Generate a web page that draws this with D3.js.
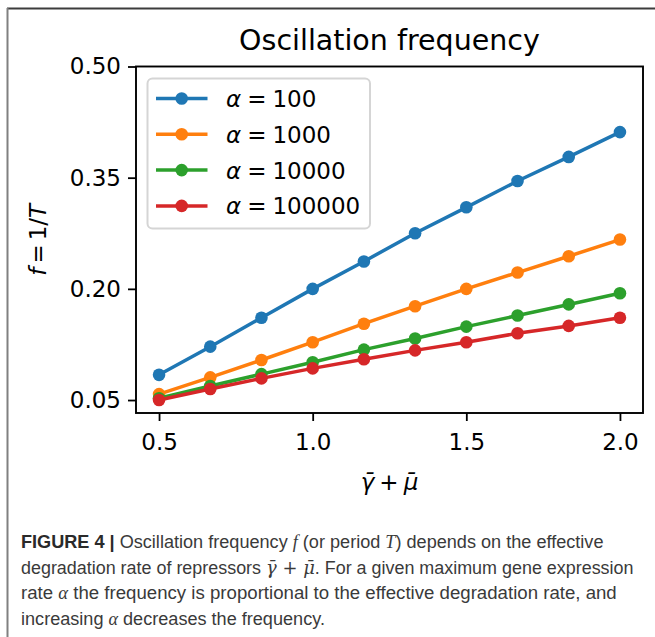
<!DOCTYPE html>
<html>
<head>
<meta charset="utf-8">
<script src="https://cdn.jsdelivr.net/npm/d3@7"></script>
<style>
  html, body { margin: 0; padding: 0; background: #fff; }
  svg { display: block; }
</style>
</head>
<body>
<svg id="chart" width="655" height="637"></svg>
<script>
// ---- data ----
const xValues = [0.5, 0.6667, 0.8333, 1.0, 1.1667, 1.3333, 1.5, 1.6667, 1.8333, 2.0];
const seriesNames = ["100", "1000", "10000", "100000"];
const alpha100    = [0.084, 0.122, 0.161, 0.200, 0.237, 0.275, 0.310, 0.3455, 0.378, 0.4115];
const alpha1000   = [0.058, 0.0806, 0.104, 0.128, 0.153, 0.1766, 0.200, 0.222, 0.244, 0.2665];
const alpha10000  = [0.0523, 0.0689, 0.085, 0.101, 0.118, 0.133, 0.149, 0.164, 0.179, 0.194];
const alpha100000 = [0.050, 0.0648, 0.0792, 0.0927, 0.105, 0.117, 0.128, 0.140, 0.150, 0.161];
const seriesColors = ["#1f77b4", "#ff7f0e", "#2ca02c", "#d62728"];
const xTicks = [0.5, 1.0, 1.5, 2.0];
const xTickLabels = ["0.5", "1.0", "1.5", "2.0"];
const yTicks = [0.05, 0.20, 0.35, 0.50];
const yTickLabels = ["0.05", "0.20", "0.35", "0.50"];
const titleText = "Oscillation frequency";
const captionLines = [
  [{t: "FIGURE 4 | ", b: true}, {t: "Oscillation frequency "}, {t: "f", i: true}, {t: " (or period "}, {t: "T", i: true}, {t: ") depends on the effective"}],
  [{t: "degradation rate of repressors "}, {t: "γ̄ + μ̄", m: true}, {t: ". For a given maximum gene expression"}],
  [{t: "rate "}, {t: "α", i: true}, {t: " the frequency is proportional to the effective degradation rate, and"}],
  [{t: "increasing "}, {t: "α", i: true}, {t: " decreases the frequency."}]
];
const captionWidths = [583, 613, 596, 304];

const allSeries = [alpha100, alpha1000, alpha10000, alpha100000];

const svg = d3.select("#chart");
svg.append("rect").attr("width", 655).attr("height", 637).attr("fill", "#fff");

// frame
svg.append("line").attr("x1", 7).attr("x2", 655).attr("y1", 8.5).attr("y2", 8.5)
  .attr("stroke", "#3c3c3c").attr("stroke-width", 2);
svg.append("line").attr("x1", 7.5).attr("x2", 7.5).attr("y1", 8).attr("y2", 637)
  .attr("stroke", "#808080").attr("stroke-width", 2);

const L = 136, R = 643, T = 66.5, B = 413;
const x = d3.scaleLinear().domain([0.425, 2.075]).range([L, R]);
const y = d3.scaleLinear().domain([0.0325, 0.5]).range([B, T]);

const FONT = "DejaVu Sans";

// axes
const xAxis = d3.axisBottom(x).tickValues(xTicks)
  .tickFormat((d, i) => xTickLabels[i]).tickSize(8).tickPadding(7);
const gx = svg.append("g").attr("transform", `translate(0,${B})`).call(xAxis);
const yAxis = d3.axisLeft(y).tickValues(yTicks)
  .tickFormat((d, i) => yTickLabels[i]).tickSize(8).tickPadding(7);
const gy = svg.append("g").attr("transform", `translate(${L},0)`).call(yAxis);
[gx, gy].forEach(g => {
  g.select(".domain").remove();
  g.selectAll(".tick line").attr("stroke", "#000").attr("stroke-width", 1.8);
  g.selectAll(".tick text").attr("font-family", FONT).attr("font-size", 23).attr("fill", "#000");
});
gx.selectAll(".tick text").attr("dy", "0.95em");

// lines
const line = d3.line().x((d, i) => x(xValues[i])).y(d => y(d));
allSeries.forEach((s, k) => {
  svg.append("path").datum(s).attr("d", line).attr("fill", "none")
    .attr("stroke", seriesColors[k]).attr("stroke-width", 3.5).attr("stroke-linejoin", "round");
  svg.append("g").selectAll("circle").data(s).join("circle")
    .attr("cx", (d, i) => x(xValues[i])).attr("cy", d => y(d)).attr("r", 6.3)
    .attr("fill", seriesColors[k]);
});

// spines
svg.append("rect").attr("x", L).attr("y", T).attr("width", R - L).attr("height", B - T)
  .attr("fill", "none").attr("stroke", "#000").attr("stroke-width", 1.9);

// legend
const lg = svg.append("g");
lg.append("rect").attr("x", 147.5).attr("y", 78.5).attr("width", 222.5).attr("height", 150)
  .attr("rx", 5).attr("fill", "#fff").attr("fill-opacity", 0.8)
  .attr("stroke", "#d5d5d5").attr("stroke-width", 2);
seriesNames.forEach((nm, k) => {
  const cy = 98.5 + k * 35.8;
  lg.append("line").attr("x1", 156).attr("x2", 207.5).attr("y1", cy).attr("y2", cy)
    .attr("stroke", seriesColors[k]).attr("stroke-width", 3.5);
  lg.append("circle").attr("cx", 181.7).attr("cy", cy).attr("r", 6.3).attr("fill", seriesColors[k]);
  const t = lg.append("text").attr("x", 226).attr("y", cy + 8.5)
    .attr("font-family", FONT).attr("font-size", 23).attr("fill", "#000");
  t.append("tspan").attr("font-style", "italic").text("α");
  t.append("tspan").attr("dx", 6).text("=");
  t.append("tspan").attr("dx", 6).text(nm);
});

// title
svg.append("text").attr("x", (L + R) / 2).attr("y", 50).attr("text-anchor", "middle")
  .attr("font-family", FONT).attr("font-size", 28.5).attr("fill", "#000").text(titleText);

// x label
const xl = svg.append("text").attr("x", (L + R) / 2).attr("y", 490).attr("text-anchor", "middle")
  .attr("font-family", FONT).attr("font-size", 23).attr("fill", "#000");
xl.append("tspan").attr("font-style", "italic").text("γ̄");
xl.append("tspan").attr("dx", 5).text("+");
xl.append("tspan").attr("dx", 5).attr("font-style", "italic").text("μ̄");

// y label
const yl = svg.append("text").attr("transform", `translate(46,${(T + B) / 2}) rotate(-90)`)
  .attr("text-anchor", "middle").attr("font-family", FONT).attr("font-size", 23).attr("fill", "#000");
yl.append("tspan").attr("font-style", "italic").text("f");
yl.append("tspan").attr("dx", 4).text("=");
yl.append("tspan").attr("dx", 4).text("1/");
yl.append("tspan").attr("font-style", "italic").text("T");

// caption (each line scaled horizontally to the reference width)
captionLines.forEach((parts, li) => {
  const baseY = 548 + li * 25.6;
  const t = svg.append("text").attr("x", 0).attr("y", 0)
    .attr("font-family", "Liberation Sans, Arial, sans-serif").attr("font-size", 18.5)
    .attr("fill", "#3a3a3a");
  parts.forEach(p => {
    const ts = t.append("tspan").text(p.t);
    if (p.b) ts.attr("font-weight", "bold").attr("fill", "#2a2a2a");
    if (p.i) ts.attr("font-style", "italic").attr("font-family", "Liberation Serif, serif");
    if (p.m) ts.attr("font-style", "italic").attr("font-family", "DejaVu Serif, serif");
  });
  const w = t.node().getComputedTextLength();
  const sx = captionWidths[li] / w;
  t.attr("transform", `translate(21,${baseY}) scale(${sx},1)`);
});
</script>
</body>
</html>
